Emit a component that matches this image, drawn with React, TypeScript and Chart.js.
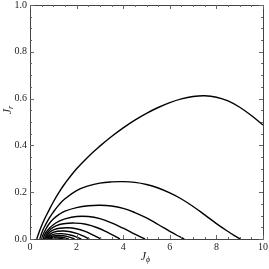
import React, { useEffect, useRef } from "react";
import { Chart, registerables } from "chart.js";

Chart.register(...registerables);

// ---- data ----
const c1X = [0.29, 0.35, 0.45, 0.6, 0.8, 1.0, 1.25, 1.5, 2.0, 2.5, 3.0, 3.5, 4.0, 4.5, 5.0, 5.5, 6.0, 6.5, 7.0, 7.5, 8.0, 8.5, 9.0, 9.5, 10.0];
const c1Y = [0, 0.018, 0.045, 0.08, 0.12, 0.158, 0.2, 0.237, 0.3, 0.352, 0.397, 0.438, 0.475, 0.508, 0.537, 0.562, 0.583, 0.599, 0.609, 0.612, 0.606, 0.59, 0.563, 0.528, 0.487];

const c2X = [0.42, 0.5, 0.6, 0.8, 1.0, 1.25, 1.5, 2.0, 2.5, 3.0, 3.5, 4.0, 4.5, 5.0, 5.5, 6.0, 6.5, 7.0, 7.5, 8.0, 8.5, 8.8, 9.02];
const c2Y = [0, 0.025, 0.048, 0.085, 0.115, 0.147, 0.172, 0.207, 0.227, 0.239, 0.244, 0.245, 0.242, 0.233, 0.218, 0.197, 0.171, 0.139, 0.103, 0.066, 0.032, 0.013, 0];

const c3X = [0.5, 0.57, 0.65, 0.8, 1.0, 1.25, 1.5, 2.0, 2.5, 3.0, 3.5, 4.0, 4.5, 5.0, 5.5, 6.0, 6.3, 6.62];
const c3Y = [0, 0.02, 0.037, 0.062, 0.085, 0.105, 0.119, 0.134, 0.142, 0.144, 0.141, 0.131, 0.113, 0.09, 0.062, 0.033, 0.016, 0];

const c4X = [0.56, 0.62, 0.7, 0.85, 1.0, 1.25, 1.5, 2.0, 2.5, 3.0, 3.5, 4.0, 4.5, 4.93];
const c4Y = [0, 0.016, 0.03, 0.048, 0.061, 0.076, 0.086, 0.096, 0.096, 0.087, 0.069, 0.046, 0.021, 0];

const c5X = [0.62, 0.72, 0.88, 1.11, 1.43, 1.92, 2.4, 2.89, 3.37, 3.7, 3.86];
const c5Y = [0, 0.022, 0.042, 0.056, 0.065, 0.068, 0.063, 0.048, 0.026, 0.009, 0];

const c6X = [0.67, 0.74, 0.86, 1.03, 1.27, 1.62, 1.98, 2.34, 2.69, 2.93, 3.05];
const c6Y = [0, 0.016, 0.03, 0.04, 0.046, 0.048, 0.044, 0.034, 0.018, 0.006, 0];

const c7X = [0.72, 0.77, 0.87, 0.99, 1.18, 1.45, 1.73, 2.0, 2.28, 2.46, 2.55];
const c7Y = [0, 0.011, 0.021, 0.028, 0.033, 0.034, 0.031, 0.024, 0.013, 0.004, 0];

const c8X = [0.76, 0.8, 0.88, 0.98, 1.12, 1.34, 1.55, 1.77, 1.98, 2.13, 2.2];
const c8Y = [0, 0.008, 0.014, 0.019, 0.022, 0.023, 0.021, 0.016, 0.009, 0.003, 0];

const c9X = [0.8, 0.83, 0.89, 0.97, 1.08, 1.25, 1.42, 1.58, 1.75, 1.86, 1.92];
const c9Y = [0, 0.005, 0.009, 0.012, 0.014, 0.015, 0.014, 0.011, 0.006, 0.002, 0];

const c10X = [0.84, 0.86, 0.91, 0.96, 1.05, 1.17, 1.29, 1.41, 1.54, 1.62, 1.66];
const c10Y = [0, 0.003, 0.0056, 0.0075, 0.0086, 0.009, 0.0083, 0.0063, 0.0034, 0.0012, 0];

const c11X = [0.88, 0.9, 0.92, 0.96, 1.02, 1.1, 1.19, 1.27, 1.36, 1.41, 1.44];
const c11Y = [0, 0.0015, 0.0028, 0.0037, 0.0043, 0.0045, 0.0041, 0.0032, 0.0017, 0.0006, 0];

const curves: [number[], number[]][] = [
  [c1X, c1Y], [c2X, c2Y], [c3X, c3Y], [c4X, c4Y], [c5X, c5Y], [c6X, c6Y],
  [c7X, c7Y], [c8X, c8Y], [c9X, c9Y], [c10X, c10Y], [c11X, c11Y],
];

const xMajor = [0, 2, 4, 6, 8, 10];
const xLabels = ["0", "2", "4", "6", "8", "10"];
const yMajor = [0, 0.2, 0.4, 0.6, 0.8, 1.0];
const yLabels = ["0.0", "0.2", "0.4", "0.6", "0.8", "1.0"];
const xMinorStep = 0.5;
const yMinorStep = 0.05;

const FONT = '"Liberation Serif", "Times New Roman", serif';

const framePlugin = {
  id: "frameTicks",
  afterDraw(chart: any) {
    const { ctx, chartArea: a, scales } = chart;
    const xs = scales.x, ys = scales.y;
    ctx.save();
    ctx.strokeStyle = "#444";
    ctx.lineWidth = 1;
    ctx.beginPath();
    ctx.rect(Math.round(a.left) + 0.5, Math.round(a.top) + 0.5, Math.round(a.right - a.left), Math.round(a.bottom - a.top));
    ctx.stroke();
    ctx.strokeStyle = "#666";
    ctx.beginPath();
    for (let v = 0; v <= 10 + 1e-9; v += xMinorStep) {
      const major = xMajor.some((m) => Math.abs(m - v) < 1e-9);
      const len = major ? 4 : 2;
      const px = Math.round(xs.getPixelForValue(v)) + 0.5;
      ctx.moveTo(px, a.bottom); ctx.lineTo(px, a.bottom - len);
      ctx.moveTo(px, a.top); ctx.lineTo(px, a.top + len);
    }
    for (let v = 0; v <= 1 + 1e-9; v += yMinorStep) {
      const major = yMajor.some((m) => Math.abs(m - v) < 1e-9);
      const len = major ? 4 : 2;
      const py = Math.round(ys.getPixelForValue(v)) + 0.5;
      ctx.moveTo(a.left, py); ctx.lineTo(a.left + len, py);
      ctx.moveTo(a.right, py); ctx.lineTo(a.right - len, py);
    }
    ctx.stroke();

    // tick labels
    ctx.fillStyle = "#222";
    ctx.font = `10px ${FONT}`;
    ctx.textAlign = "center";
    ctx.textBaseline = "top";
    xMajor.forEach((v, i) => ctx.fillText(xLabels[i], xs.getPixelForValue(v), a.bottom + 3));
    ctx.textAlign = "right";
    ctx.textBaseline = "middle";
    yMajor.forEach((v, i) => ctx.fillText(yLabels[i], a.left - 3, ys.getPixelForValue(v)));

    // axis titles
    ctx.textBaseline = "alphabetic";
    ctx.textAlign = "left";
    ctx.font = `italic 12px ${FONT}`;
    const wJ = ctx.measureText("J").width;
    ctx.font = `italic 8px ${FONT}`;
    const wP = ctx.measureText("\u03d5").width;
    const cx = (a.left + a.right) / 2 - 1;
    const sx = cx - (wJ + wP) / 2;
    ctx.font = `italic 12px ${FONT}`;
    ctx.fillText("J", sx, a.bottom + 21);
    ctx.font = `italic 8px ${FONT}`;
    ctx.fillText("\u03d5", sx + wJ, a.bottom + 23);
    ctx.save();
    ctx.translate(a.left - 19, 110);
    ctx.rotate(-Math.PI / 2);
    ctx.font = `italic 12px ${FONT}`;
    const wJ2 = ctx.measureText("J").width;
    ctx.font = `italic 8px ${FONT}`;
    const wR = ctx.measureText("r").width;
    const sy = -(wJ2 + wR) / 2;
    ctx.font = `italic 12px ${FONT}`;
    ctx.fillText("J", sy, 0);
    ctx.font = `italic 8px ${FONT}`;
    ctx.fillText("r", sy + wJ2, 2);
    ctx.restore();
    ctx.restore();
  },
};

export default function App() {
  const ref = useRef<HTMLCanvasElement | null>(null);
  useEffect(() => {
    document.body.style.margin = "0";
    if (!ref.current) return;
    const datasets = curves.map(([xs, ys]) => ({
      data: xs.map((x, i) => ({ x, y: ys[i] })),
      borderColor: "#000",
      borderWidth: 1.4,
      pointRadius: 0,
      fill: false,
      tension: 0.4,
    }));
    const chart = new Chart(ref.current, {
      type: "line",
      data: { datasets },
      plugins: [framePlugin],
      options: {
        animation: false,
        responsive: true,
        maintainAspectRatio: false,
        layout: { padding: { top: 5, right: 6, left: 0, bottom: 0 } },
        plugins: { legend: { display: false }, tooltip: { enabled: false } },
        scales: {
          x: {
            type: "linear",
            min: 0,
            max: 10,
            afterFit: (s: any) => { s.height = 30; },
            grid: { display: false, drawTicks: false },
            border: { display: false },
            ticks: { display: false },
          },
          y: {
            type: "linear",
            min: 0,
            max: 1,
            afterFit: (s: any) => { s.width = 30; },
            grid: { display: false, drawTicks: false },
            border: { display: false },
            ticks: { display: false },
          },
        },
      },
    });
    return () => chart.destroy();
  }, []);
  return (
    <div style={{ width: 269, height: 269, position: "relative" }}>
      <canvas ref={ref} />
    </div>
  );
}
